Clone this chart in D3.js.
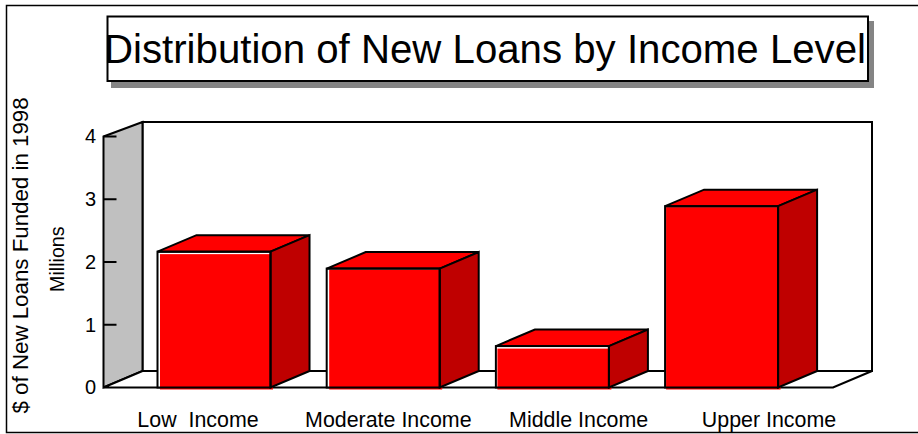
<!DOCTYPE html>
<html>
<head>
<meta charset="utf-8">
<script src="https://cdnjs.cloudflare.com/ajax/libs/d3/7.8.5/d3.min.js"></script>
<style>
  html, body { margin: 0; padding: 0; background: #fff; }
  svg { display: block; }
  text { font-family: "Liberation Sans", Arial, sans-serif; fill: #000; }
</style>
</head>
<body>
<svg id="chart" width="918" height="434"></svg>
<script>
// Loan volume by income band, in millions of dollars
const categories = ["Low  Income", "Moderate Income", "Middle Income", "Upper Income"];
const loanValues = [2.165, 1.895, 0.66, 2.89];
const yTicks = [0, 1, 2, 3, 4];
const chartTitle = "Distribution of New Loans by Income Level";
const yAxisTitle = "$ of New Loans Funded in 1998";
const yAxisUnits = "Millions";

const svg = d3.select("#chart");
const lineWidth = 2;

// Oblique projection offset from the front plane to the back wall
const depth = { x: 39, y: -16.5 };

const y = d3.scaleLinear().domain([0, 4]).range([387.5, 136.5]);
const x = d3.scaleBand().domain(categories).range([157.5, 778.1]).paddingInner(0.332).paddingOuter(0);
// Category captions run on a wider pitch than the bars
const labelX = d3.scalePoint().domain(categories).range([198, 769]);

const plotLeft = 103.5, plotRight = 833, wallTop = y(4) + depth.y + 2;
const poly = pts => pts.map(p => p.join(",")).join(" ");

// Outer frame, open on the right edge
svg.append("path")
  .attr("d", "M918,5.5 H6.5 V432.5 H918")
  .attr("fill", "none").attr("stroke", "#000").attr("stroke-width", 1.5);

// Title box with drop shadow
svg.append("rect").attr("x", 111).attr("y", 21).attr("width", 763).attr("height", 67).attr("fill", "#848484");
svg.append("rect").attr("x", 107.5).attr("y", 16.5).attr("width", 760.5).attr("height", 64.5)
  .attr("fill", "#fff").attr("stroke", "#000").attr("stroke-width", lineWidth);
svg.append("text").attr("x", 104).attr("y", 62.5)
  .attr("font-size", 40).attr("textLength", 762).attr("lengthAdjust", "spacingAndGlyphs")
  .text(chartTitle);

// Back wall
svg.append("polygon")
  .attr("points", poly([
    [plotLeft + depth.x, wallTop], [plotRight + depth.x, wallTop],
    [plotRight + depth.x, y(0) + depth.y], [plotLeft + depth.x, y(0) + depth.y]]))
  .attr("fill", "#fff").attr("stroke", "#000").attr("stroke-width", lineWidth);

// Side wall
svg.append("polygon")
  .attr("points", poly([
    [plotLeft, y(4)], [plotLeft + depth.x, wallTop],
    [plotLeft + depth.x, y(0) + depth.y], [plotLeft, y(0)]]))
  .attr("fill", "#c0c0c0").attr("stroke", "#000").attr("stroke-width", lineWidth);

// Floor
svg.append("polygon")
  .attr("points", poly([
    [plotLeft, y(0)], [plotLeft + depth.x, y(0) + depth.y],
    [plotRight + depth.x, y(0) + depth.y], [plotRight, y(0)]]))
  .attr("fill", "#fff").attr("stroke", "#000").attr("stroke-width", lineWidth);

// Value axis ticks and labels
const axis = d3.axisLeft(y).tickValues(yTicks).tickFormat(d3.format("d")).tickSize(0).tickPadding(7.5);
const axisG = svg.append("g").attr("transform", `translate(${plotLeft},0)`).call(axis);
axisG.select(".domain").remove();
axisG.selectAll("text").attr("font-size", 20).attr("font-family", '"Liberation Sans", Arial, sans-serif');
svg.selectAll(".inner-tick").data(yTicks.filter(d => d > 0)).join("line")
  .attr("class", "inner-tick")
  .attr("x1", plotLeft).attr("x2", plotLeft + 13)
  .attr("y1", d => y(d)).attr("y2", d => y(d))
  .attr("stroke", "#000").attr("stroke-width", lineWidth);

// Bars: front, top and side faces
const bars = svg.selectAll(".bar")
  .data(categories.map((c, i) => ({ category: c, value: loanValues[i], index: i })))
  .join("g").attr("class", "bar");

// Front face fill sits a little inside the outline; some bars leave a thin light edge
const insetLeft = [2.5, 2.5, 1.5, 1];
const insetTop = [2.5, 1, 2.5, 1];
bars.append("rect")
  .attr("x", d => x(d.category)).attr("y", d => y(d.value))
  .attr("width", x.bandwidth()).attr("height", d => y(0) - y(d.value))
  .attr("fill", "#fff");
bars.append("rect")
  .attr("x", d => x(d.category) + insetLeft[d.index]).attr("y", d => y(d.value) + insetTop[d.index])
  .attr("width", d => x.bandwidth() + 2.5 - insetLeft[d.index])
  .attr("height", d => y(0) - y(d.value) + 2 - insetTop[d.index])
  .attr("fill", "#ff0000");

bars.append("polygon")
  .attr("points", d => {
    const l = x(d.category), r = l + x.bandwidth(), t = y(d.value);
    return poly([[l, t], [l + depth.x, t + depth.y], [r + depth.x, t + depth.y], [r, t]]);
  })
  .attr("fill", "#ff0000").attr("stroke", "#000").attr("stroke-width", lineWidth);

bars.append("polygon")
  .attr("points", d => {
    const r = x(d.category) + x.bandwidth(), t = y(d.value), b = y(0);
    return poly([[r, t], [r + depth.x, t + depth.y], [r + depth.x, b + depth.y], [r, b]]);
  })
  .attr("fill", "#bf0000").attr("stroke", "#000").attr("stroke-width", lineWidth);

bars.append("rect")
  .attr("x", d => x(d.category)).attr("y", d => y(d.value))
  .attr("width", x.bandwidth()).attr("height", d => y(0) - y(d.value))
  .attr("fill", "none").attr("stroke", "#000").attr("stroke-width", lineWidth);

// Category labels
svg.selectAll(".cat-label").data(categories).join("text")
  .attr("class", "cat-label")
  .attr("x", d => labelX(d))
  .attr("y", 426.5)
  .attr("text-anchor", "middle")
  .attr("font-size", 21.4)
  .style("white-space", "pre")
  .text(d => d);

// Rotated axis titles
svg.append("text")
  .attr("transform", "translate(28,413.5) rotate(-90)")
  .attr("font-size", 22.3).text(yAxisTitle);
svg.append("text")
  .attr("transform", "translate(64,292) rotate(-90)")
  .attr("font-size", 19.7).text(yAxisUnits);
</script>
</body>
</html>
